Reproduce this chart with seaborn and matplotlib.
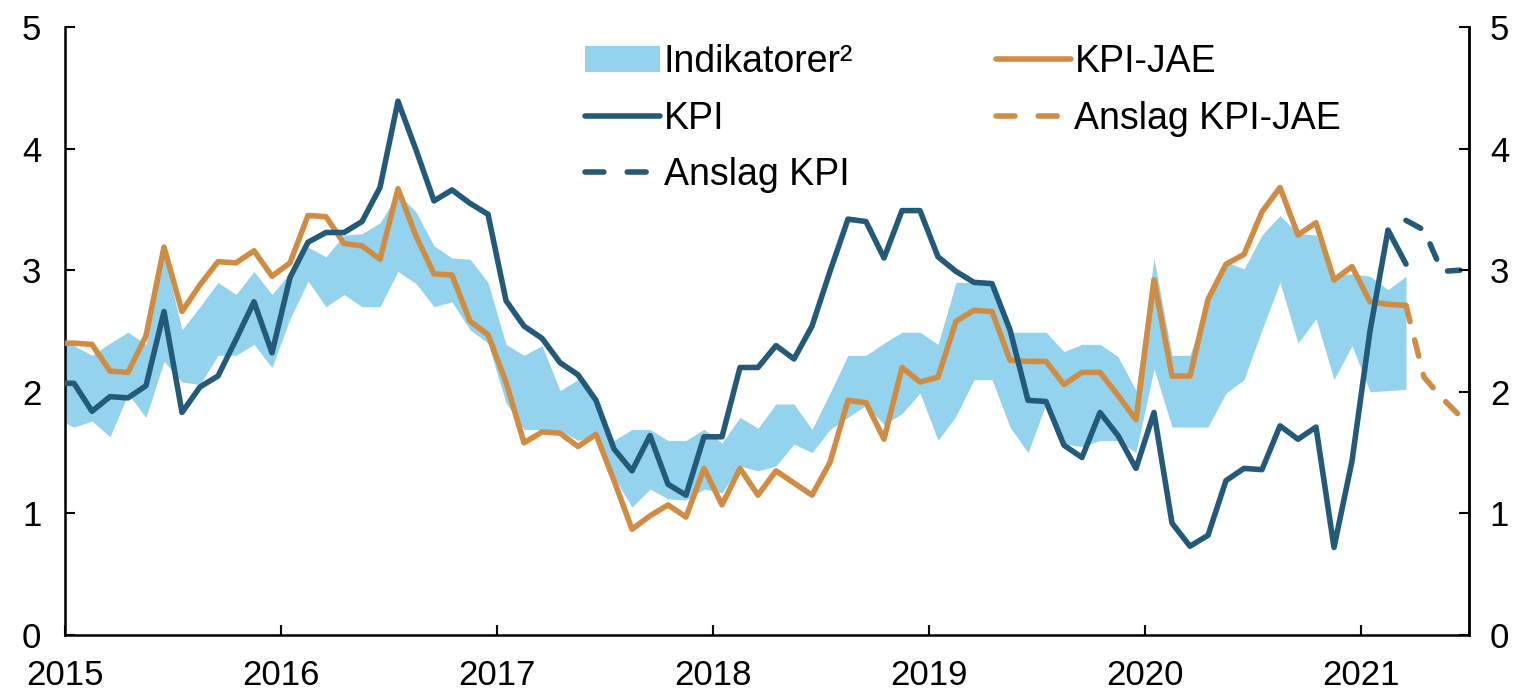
import numpy as np
import pandas as pd
import matplotlib
matplotlib.use("Agg")
import matplotlib.pyplot as plt
import seaborn as sns
from matplotlib.patches import Patch
from matplotlib.lines import Line2D

# Monthly observations, first value = December 2014 (mid-month positions)
first_year, first_month = 2014, 12

kpi = [2.07, 2.07, 1.84, 1.96, 1.95, 2.05, 2.66, 1.83, 2.04, 2.13, 2.43, 2.74, 2.32,
       2.94, 3.23, 3.31, 3.31, 3.40, 3.68, 4.39, 3.99, 3.57, 3.66, 3.55, 3.46,
       2.75, 2.54, 2.44, 2.24, 2.14, 1.93, 1.53, 1.35, 1.64, 1.24, 1.15, 1.63,
       1.63, 2.20, 2.20, 2.38, 2.27, 2.54, 2.99, 3.42, 3.40, 3.10, 3.49, 3.49,
       3.11, 2.99, 2.90, 2.89, 2.51, 1.93, 1.92, 1.56, 1.46, 1.83, 1.64, 1.37,
       1.83, 0.92, 0.73, 0.82, 1.27, 1.37, 1.36, 1.72, 1.61, 1.71, 0.72, 1.43,
       2.50, 3.33, 3.05]

kpi_jae = [2.40, 2.40, 2.39, 2.17, 2.16, 2.46, 3.19, 2.66, 2.88, 3.07, 3.06, 3.16, 2.95,
           3.06, 3.45, 3.44, 3.22, 3.20, 3.09, 3.67, 3.28, 2.97, 2.96, 2.58, 2.47,
           2.08, 1.58, 1.67, 1.66, 1.55, 1.65, 1.27, 0.87, 0.98, 1.07, 0.97, 1.37,
           1.07, 1.37, 1.15, 1.35, 1.25, 1.15, 1.42, 1.93, 1.91, 1.61, 2.20, 2.08,
           2.12, 2.58, 2.67, 2.66, 2.26, 2.25, 2.25, 2.06, 2.16, 2.16, 1.97, 1.77,
           2.92, 2.13, 2.13, 2.76, 3.05, 3.13, 3.48, 3.68, 3.29, 3.39, 2.92, 3.03,
           2.74, 2.72, 2.71]

ind_high = [2.40, 2.38, 2.30, 2.40, 2.49, 2.39, 3.13, 2.51, 2.70, 2.90, 2.80, 2.99, 2.80,
            2.98, 3.19, 3.11, 3.29, 3.30, 3.39, 3.63, 3.48, 3.20, 3.10, 3.09, 2.90,
            2.39, 2.30, 2.38, 2.01, 2.10, 1.91, 1.60, 1.69, 1.69, 1.60, 1.60, 1.69,
            1.58, 1.79, 1.70, 1.90, 1.90, 1.69, 1.99, 2.30, 2.30, 2.40, 2.49, 2.49,
            2.39, 2.90, 2.90, 2.87, 2.49, 2.49, 2.49, 2.33, 2.39, 2.39, 2.29, 2.01,
            3.10, 2.30, 2.30, 2.75, 3.07, 3.01, 3.29, 3.45, 3.30, 3.29, 2.96, 2.97,
            2.95, 2.84, 2.95]

ind_low = [1.78, 1.71, 1.76, 1.63, 1.98, 1.79, 2.25, 2.08, 2.06, 2.30, 2.30, 2.39, 2.20,
           2.60, 2.91, 2.70, 2.80, 2.70, 2.70, 2.99, 2.89, 2.70, 2.74, 2.51, 2.40,
           1.91, 1.69, 1.69, 1.68, 1.60, 1.64, 1.30, 1.05, 1.20, 1.12, 1.11, 1.20,
           1.17, 1.39, 1.35, 1.39, 1.57, 1.50, 1.69, 1.79, 1.89, 1.73, 1.82, 1.99,
           1.60, 1.80, 2.10, 2.10, 1.71, 1.50, 1.90, 1.57, 1.55, 1.60, 1.60, 1.50,
           2.19, 1.71, 1.71, 1.71, 1.99, 2.10, 2.51, 2.90, 2.40, 2.60, 2.10, 2.38,
           2.00, 2.01, 2.02]

# Forecasts, first value = March 2021
fc_first_year, fc_first_month = 2021, 3
kpi_fc = [3.41, 3.33, 2.99, 3.00]
kpi_jae_fc = [2.71, 2.12, 1.95, 1.80]

year_ticks = [2015, 2016, 2017, 2018, 2019, 2020, 2021]
y_ticks = [0, 1, 2, 3, 4, 5]

labels = {"band": "Indikatorer²", "kpi": "KPI", "kpi_fc": "Anslag KPI",
          "jae": "KPI-JAE", "jae_fc": "Anslag KPI-JAE"}

C_DARK = "#235A7A"
C_ORANGE = "#CF8C42"
C_BAND = "#93D3EE"


def month_pos(y0, m0, n):
    idx = np.arange(n)
    return y0 + (m0 - 1 + idx + 0.5) / 12.0


df = pd.DataFrame({
    "t": month_pos(first_year, first_month, len(kpi)),
    "kpi": kpi, "jae": kpi_jae, "lo": ind_low, "hi": ind_high,
})
fc = pd.DataFrame({
    "t": month_pos(fc_first_year, fc_first_month, len(kpi_fc)),
    "kpi": kpi_fc, "jae": kpi_jae_fc,
})

sns.set_theme(style="white")
plt.rcParams["font.family"] = ["Liberation Sans", "DejaVu Sans"]
plt.rcParams["text.color"] = "black"

fig = plt.figure(figsize=(15.26, 6.94), dpi=100)
ax = fig.add_axes([65 / 1526, 1 - 635 / 694, (1469 - 65) / 1526, (635 - 27) / 694])

LW = 4.0
DASH = (0, (3.0, 3.4))
LEG_DASH = (0, (3.4, 4.2))
ax.fill_between(df["t"], df["lo"], df["hi"], color=C_BAND, linewidth=0, zorder=1)
sns.lineplot(data=df, x="t", y="jae", ax=ax, color=C_ORANGE, linewidth=LW, zorder=3)
sns.lineplot(data=df, x="t", y="kpi", ax=ax, color=C_DARK, linewidth=LW, zorder=4)
sns.lineplot(data=fc, x="t", y="jae", ax=ax, color=C_ORANGE, linewidth=LW, zorder=3,
             linestyle=DASH, dash_capstyle="round")
sns.lineplot(data=fc, x="t", y="kpi", ax=ax, color=C_DARK, linewidth=LW, zorder=4,
             linestyle=DASH, dash_capstyle="round")

ax.set_xlim(2015, 2021.5)
ax.set_ylim(0, 5)
ax.set_xticks(year_ticks)
ax.set_xticklabels([str(y) for y in year_ticks])
ax.set_yticks(y_ticks)
ax.set_xlabel("")
ax.set_ylabel("")

ax2 = ax.twinx()
ax2.set_ylim(0, 5)
ax2.set_yticks(y_ticks)

for a in (ax, ax2):
    for s in a.spines.values():
        s.set_color("black")
        s.set_linewidth(1.8)
    a.spines["top"].set_visible(False)
    a.grid(False)

fs = 25
ax.tick_params(axis="y", direction="in", length=7, width=1.5, labelsize=fs, pad=17,
               colors="black", left=True)
ax.tick_params(axis="x", direction="in", length=7, width=1.5, labelsize=fs, pad=17,
               colors="black", bottom=True)
ax2.tick_params(axis="y", direction="in", length=7, width=1.5, labelsize=fs, pad=15,
                colors="black", right=True)
ax2.spines["left"].set_visible(False)
ax2.spines["bottom"].set_visible(False)

handles = [
    Patch(facecolor=C_BAND, edgecolor="none", label=labels["band"]),
    Line2D([], [], color=C_DARK, lw=LW, label=labels["kpi"]),
    Line2D([], [], color=C_DARK, lw=LW, linestyle=LEG_DASH, dash_capstyle="round",
           label=labels["kpi_fc"]),
    Line2D([], [], color=C_ORANGE, lw=LW, label=labels["jae"]),
    Line2D([], [], color=C_ORANGE, lw=LW, linestyle=LEG_DASH, dash_capstyle="round",
           label=labels["jae_fc"]),
]
leg_fs = 27
fig.legend(handles=handles, ncol=2, loc="upper left",
           bbox_to_anchor=(585 / 1526, 1 - 44 / 694), frameon=False, fontsize=leg_fs,
           handlelength=2.0, handletextpad=0.1, columnspacing=3.8, labelspacing=0.55,
           borderaxespad=0, borderpad=0, labelcolor="black")

fig.savefig("out.png", dpi=100)
